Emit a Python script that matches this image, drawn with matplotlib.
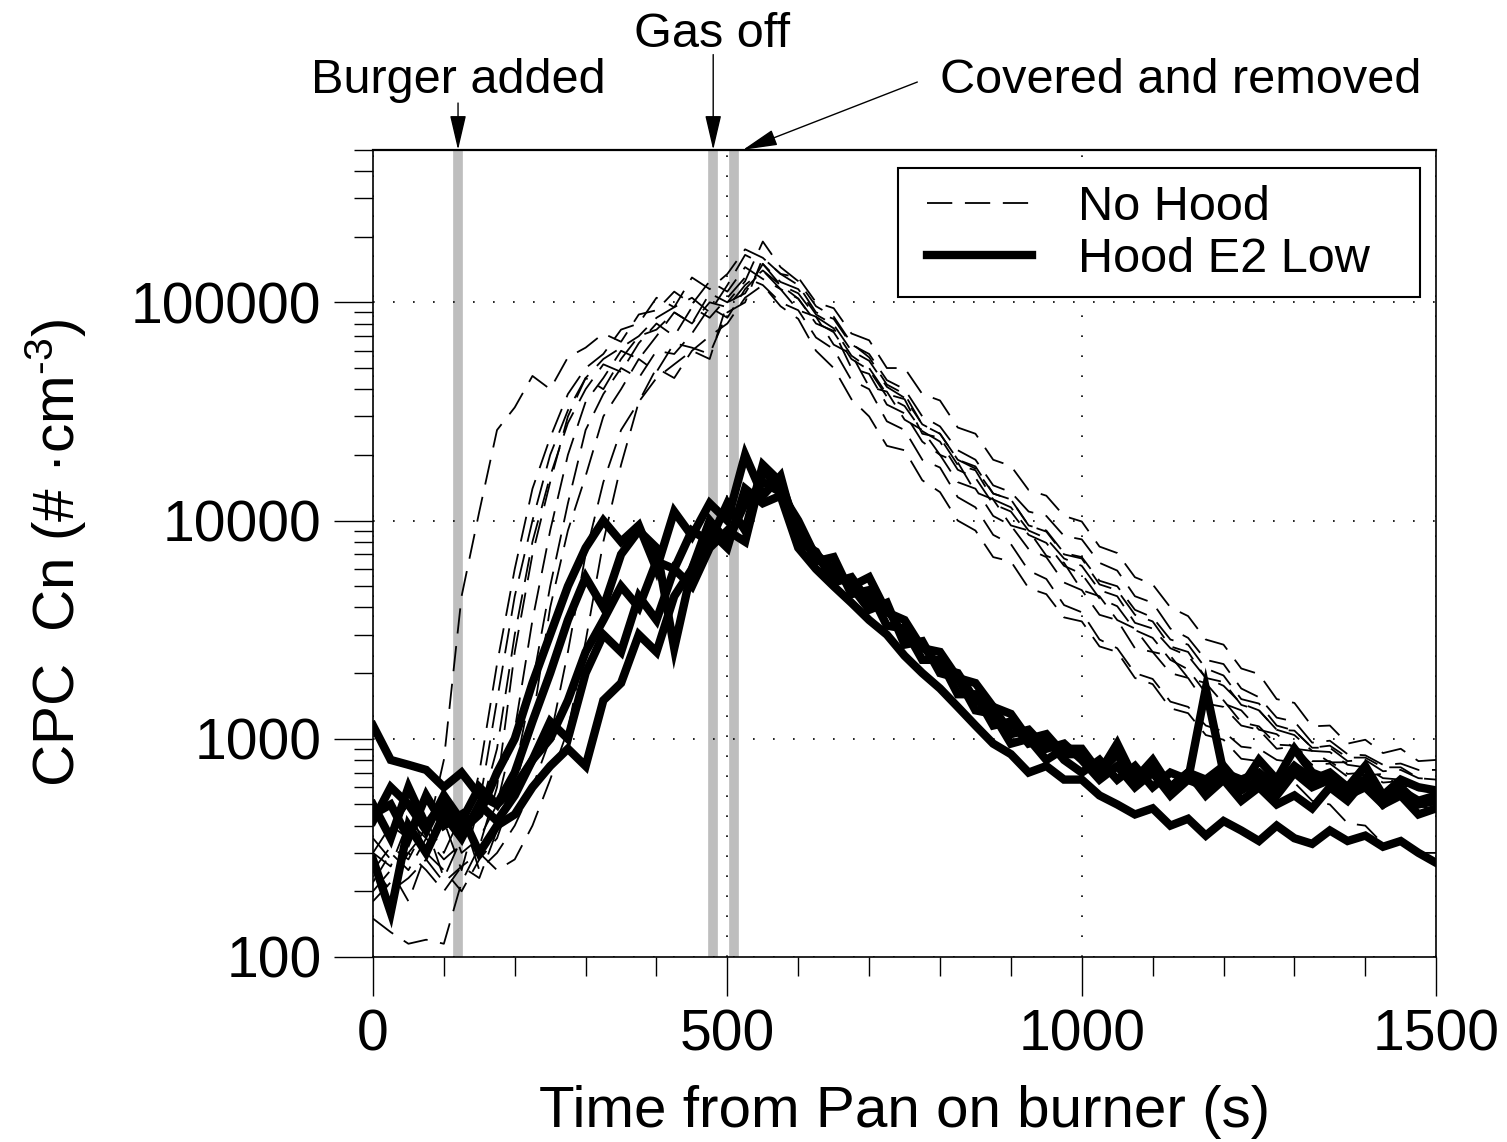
import numpy as np
import matplotlib
matplotlib.use("Agg")
import matplotlib.pyplot as plt
from matplotlib.patches import Rectangle
from matplotlib.ticker import MultipleLocator, LogLocator, FixedLocator, FixedFormatter, NullFormatter

plt.rcParams['font.family'] = ['Liberation Sans', 'DejaVu Sans']
plt.rcParams['mathtext.fontset'] = 'custom'
plt.rcParams['mathtext.rm'] = 'Liberation Sans'
plt.rcParams['mathtext.it'] = 'Liberation Sans'

# sample times (s), one reading every 25 s
time_s = np.arange(0, 1501, 25)

# No Hood runs (CPC counts, #/cm3)
no_hood = [
    [300, 260, 420, 350, 800, 4500, 11000, 26000, 33000, 46000,
     40000, 56000, 62000, 72000, 66000, 88000, 92000, 112000, 98000, 125000,
     112000, 145000, 128000, 115000, 92000, 86000, 64000, 58000, 41000, 39000,
     29000, 26000, 20000, 18500, 13500, 12500, 9500, 9000, 6900, 6400,
     4800, 4500, 3500, 3200, 2500, 2400, 1900, 1800, 1450, 1350,
     1100, 1050, 900, 880, 780, 780, 680, 690, 600, 620,
     560],
    [150, 130, 115, 120, 115, 220, 320, 600, 2500, 7000,
     15000, 30000, 45000, 55000, 62000, 70000, 85000, 95000, 105000, 90000,
     120000, 165000, 150000, 120000, 104000, 80000, 74000, 50000, 47000, 34000,
     31000, 23000, 20000, 15000, 14000, 10500, 9500, 7400, 6800, 5200,
     4800, 3700, 3500, 2600, 2500, 2000, 1900, 1450, 1400, 1150,
     1100, 900, 920, 760, 770, 670, 680, 570, 580, 500,
     500],
    [220, 300, 250, 350, 280, 330, 700, 2200, 6000, 14000,
     24000, 38000, 50000, 58000, 75000, 80000, 105000, 95000, 130000, 115000,
     135000, 175000, 160000, 135000, 120000, 90000, 84000, 64000, 58000, 44000,
     40000, 30000, 27000, 21000, 19000, 14500, 13500, 11000, 10500, 8500,
     8200, 6400, 5900, 4500, 4200, 3200, 2900, 2300, 2200, 1700,
     1550, 1250, 1200, 960, 980, 850, 840, 760, 770, 720,
     720],
    [450, 380, 500, 300, 420, 250, 500, 1500, 4500, 10000,
     20000, 32000, 45000, 40000, 55000, 70000, 75000, 90000, 80000, 100000,
     95000, 120000, 140000, 120000, 110000, 86000, 76000, 57000, 50000, 38000,
     36000, 25000, 24000, 18000, 17000, 12500, 11500, 9000, 8300, 6700,
     6200, 4800, 4500, 3400, 3200, 2600, 2400, 1900, 1750, 1450,
     1350, 1100, 1040, 880, 870, 760, 740, 660, 650, 590,
     560],
    [250, 320, 280, 400, 230, 350, 450, 900, 3000, 8000,
     16000, 28000, 40000, 52000, 48000, 65000, 80000, 70000, 95000, 85000,
     105000, 130000, 120000, 100000, 92000, 69000, 61000, 44000, 40000, 28500,
     26000, 19000, 17500, 12800, 11500, 8600, 7800, 5900, 5400, 4100,
     3800, 2850, 2600, 2000, 1880, 1480, 1400, 1150, 1080, 920,
     900, 800, 780, 680, 670, 600, 590, 550, 530, 490,
     480],
    [350, 280, 300, 380, 500, 300, 350, 500, 1100, 3500,
     9000, 20000, 35000, 45000, 60000, 55000, 70000, 90000, 80000, 110000,
     100000, 125000, 190000, 145000, 125000, 96000, 86000, 65000, 56000, 42000,
     38000, 27500, 25000, 19000, 17300, 13300, 12500, 9500, 8900, 7000,
     6700, 5100, 4800, 3700, 3450, 2650, 2500, 1900, 1820, 1430,
     1350, 1100, 1090, 910, 930, 820, 820, 740, 740, 660,
     650],
    [180, 220, 300, 250, 200, 260, 230, 380, 700, 1800,
     5000, 12000, 26000, 38000, 50000, 45000, 60000, 58000, 72000, 95000,
     85000, 115000, 140000, 115000, 104000, 81000, 73000, 55000, 49000, 37000,
     33500, 25700, 23000, 17100, 15700, 11900, 11000, 8600, 7900, 6200,
     5700, 4400, 4050, 3150, 2900, 2300, 2080, 1620, 1500, 1190,
     1140, 940, 930, 790, 790, 690, 700, 630, 640, 580,
     580],
    [300, 400, 350, 420, 300, 450, 250, 300, 400, 600,
     1000, 2500, 7000, 15000, 26000, 35000, 45000, 52000, 60000, 55000,
     100000, 110000, 150000, 124000, 115000, 88000, 79000, 60000, 54000, 41000,
     36500, 27600, 25000, 19000, 17700, 13300, 12500, 9500, 9000, 7100,
     6800, 5300, 5000, 3900, 3600, 2850, 2700, 2100, 1950, 1520,
     1450, 1150, 1090, 910, 910, 790, 800, 710, 720, 660,
     650],
    [260, 200, 230, 280, 220, 260, 300, 250, 280, 400,
     650, 1100, 2800, 8000, 18000, 35000, 50000, 45000, 60000, 70000,
     80000, 105000, 120000, 96000, 84000, 60000, 50000, 36000, 30000, 22000,
     21000, 15300, 13500, 10000, 9000, 6800, 6500, 4900, 4600, 3600,
     3450, 2650, 2500, 1900, 1780, 1380, 1310, 1040, 990, 810,
     790, 650, 630, 520, 500, 410, 400, 330, 330, 300,
     300],
    [200, 250, 180, 300, 250, 200, 280, 350, 600, 1200,
     4000, 9000, 16000, 30000, 40000, 55000, 48000, 65000, 62000, 58000,
     90000, 100000, 160000, 135000, 130000, 100000, 94000, 72000, 67000, 50000,
     50000, 38000, 35500, 26700, 25000, 19000, 17800, 13800, 13000, 10500,
     9900, 7600, 7100, 5500, 5100, 4000, 3650, 2850, 2700, 2100,
     1980, 1520, 1460, 1140, 1150, 950, 990, 860, 900, 790,
     800],
]

# Hood E2 Low runs
hood_e2_low = [
    [1150, 800, 760, 720, 600, 700, 550, 500, 600, 800,
     1000, 1500, 2500, 3500, 5000, 4000, 6500, 6000, 9000, 8000,
     12000, 9000, 18000, 15000, 9000, 7000, 6000, 5000, 5500, 3800,
     3500, 2600, 2500, 1900, 1800, 1400, 1300, 1000, 1050, 850,
     850, 700, 950, 650, 750, 600, 700, 550, 650, 520,
     600, 500, 550, 480, 600, 520, 650, 500, 550, 450,
     480],
    [500, 350, 600, 400, 520, 380, 450, 700, 1000, 1800,
     3000, 5000, 7500, 10000, 8000, 9500, 6000, 11000, 8500, 12000,
     10000, 20000, 13000, 16000, 8000, 7200, 5200, 5500, 4200, 4000,
     2900, 2700, 2100, 2000, 1500, 1400, 1050, 1100, 900, 950,
     800, 650, 750, 600, 700, 550, 650, 600, 700, 580,
     650, 550, 700, 600, 650, 550, 600, 500, 580, 520,
     550],
    [280, 160, 400, 300, 450, 350, 500, 420, 550, 800,
     1200, 1000, 2000, 3000, 2500, 4500, 3500, 6000, 5000, 7500,
     9000, 8000, 17000, 14000, 9500, 6500, 6800, 4600, 4800, 3300,
     3200, 2300, 2300, 1600, 1600, 1150, 1200, 950, 1000, 800,
     700, 800, 650, 750, 600, 700, 650, 1700, 700, 650,
     700, 600, 750, 650, 700, 600, 650, 550, 600, 500,
     520],
    [450, 500, 350, 550, 400, 450, 300, 400, 450, 600,
     750, 900, 750, 1500, 1800, 3000, 2500, 4500, 6000, 9000,
     7500, 14000, 12000, 13000, 7500, 6000, 5000, 4200, 3500, 3000,
     2400, 2000, 1700, 1400, 1150, 950, 850, 700, 750, 650,
     650, 550, 500, 450, 480, 400, 430, 360, 420, 380,
     340, 400, 350, 330, 380, 340, 360, 320, 340, 300,
     270],
    [420, 600, 500, 380, 550, 420, 600, 500, 700, 1200,
     2000, 3500, 5500, 4000, 7000, 9000, 7500, 2600, 6000, 10000,
     8000, 12000, 15000, 13500, 10000, 6800, 5800, 5000, 3900, 4200,
     2700, 2800, 2000, 1900, 1350, 1300, 950, 1000, 800, 900,
     900, 700, 850, 650, 800, 600, 700, 650, 750, 600,
     800, 650, 900, 700, 650, 600, 750, 550, 650, 600,
     580],
]

# event markers (s)
event_times = [120, 480, 510]

fig = plt.figure(figsize=(15.07, 11.42), dpi=100)
ax = fig.add_axes([0.2475, 0.162, 0.7055, 0.7068])

for t in event_times:
    ax.axvline(t, color='#bebebe', lw=7, zorder=1)

for i, run in enumerate(no_hood):
    ax.plot(time_s, run, color='black', lw=1.3, ls=(0, (14, 7)),
            label='No Hood' if i == 0 else None, zorder=3)
for i, run in enumerate(hood_e2_low):
    ax.plot(time_s, run, color='black', lw=6, solid_joinstyle='miter',
            label='Hood E2 Low' if i == 0 else None, zorder=4)

ax.set_yscale('log')
ax.set_xlim(0, 1500)
ax.set_ylim(100, 500000)

ax.xaxis.set_major_locator(MultipleLocator(500))
ax.xaxis.set_minor_locator(MultipleLocator(100))
ax.yaxis.set_major_locator(FixedLocator([100, 1000, 10000, 100000]))
ax.yaxis.set_major_formatter(FixedFormatter(['100', '1000', '10000', '100000']))
ax.yaxis.set_minor_locator(LogLocator(base=10, subs=np.arange(2, 10), numticks=20))
ax.yaxis.set_minor_formatter(NullFormatter())

ax.tick_params(which='major', direction='out', length=28, width=1, labelsize=41, pad=9)
ax.tick_params(which='minor', direction='out', length=14, width=1)
ax.tick_params(top=False, right=False, which='both')
for s in ax.spines.values():
    s.set_linewidth(1.2)
ax.spines['top'].set_linewidth(1.6)

ax.grid(True, which='major', color='black', lw=1.2, ls=(0, (1, 11)), zorder=2)

ax.set_xlabel('Time from Pan on burner (s)', fontsize=42, labelpad=16)
ax.set_ylabel('CPC  Cn (# ·cm$^{\\text{-3}}$)', fontsize=42, labelpad=30)

# legend box drawn separately so it can be wider than its contents
ax.add_patch(Rectangle((0.4939, 0.8178), 0.4911, 0.1599, transform=ax.transAxes,
                       facecolor='white', edgecolor='black', lw=1.5, zorder=5))
leg = ax.legend(loc='upper left', bbox_to_anchor=(0.5052, 0.978), borderaxespad=0,
                fontsize=35, frameon=False, handlelength=2.16, handletextpad=0.95,
                labelspacing=0.15, borderpad=0.35)
leg.set_zorder(6)

arrow = dict(arrowstyle='-|>,head_length=1.2,head_width=0.28', color='black',
             lw=1, mutation_scale=18, shrinkA=0, shrinkB=0)
tr = ax.get_xaxis_transform()
ax.annotate('', xy=(120, 1.0), xytext=(120, 1.058), xycoords=tr, textcoords=tr,
            arrowprops=arrow, annotation_clip=False)
ax.annotate('', xy=(480, 1.0), xytext=(480, 1.118), xycoords=tr, textcoords=tr,
            arrowprops=arrow, annotation_clip=False)
ax.annotate('', xy=(522, 1.0), xytext=(768, 1.084), xycoords=tr, textcoords=tr,
            arrowprops=arrow, annotation_clip=False)
ax.text(120, 1.071, 'Burger added', transform=tr, ha='center', va='baseline', fontsize=35)
ax.text(478, 1.127, 'Gas off', transform=tr, ha='center', va='baseline', fontsize=35)
ax.text(800, 1.071, 'Covered and removed', transform=tr, ha='left', va='baseline', fontsize=35)

fig.savefig('out.png', dpi=100)
